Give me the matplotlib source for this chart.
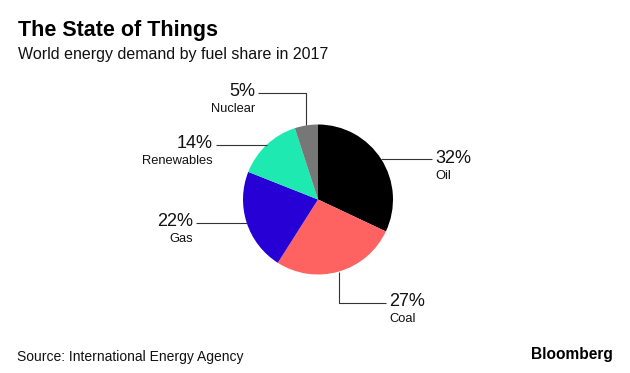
import numpy as np
import matplotlib
matplotlib.use("Agg")
import matplotlib.pyplot as plt

# ---- data ----
fuels = ["Oil", "Coal", "Gas", "Renewables", "Nuclear"]
shares = [32, 27, 22, 14, 5]
share_labels = ["32%", "27%", "22%", "14%", "5%"]
colors = ["#000000", "#FF6361", "#2700D6", "#1DE9B0", "#777777"]

title = "The State of Things"
subtitle = "World energy demand by fuel share in 2017"
source = "Source: International Energy Agency"

W, H = 630, 373
fig = plt.figure(figsize=(W / 100, H / 100), dpi=100)
plt.rcParams['font.family'] = ['Liberation Sans', 'DejaVu Sans']

# pie axes: centre (318, 199.5) px, radius 75 px
cx, cy, r = 318, 199.5, 75
ax = fig.add_axes([(cx - r) / W, (H - cy - r) / H, 2 * r / W, 2 * r / H])
wedges, _ = ax.pie(shares, colors=colors, startangle=90, counterclock=False,
                   radius=1, wedgeprops=dict(linewidth=0))
ax.set_xlim(-1, 1)
ax.set_ylim(-1, 1)
ax.set_aspect('equal')
ax.axis('off')

u = 1 / r  # one pixel in data units
line_kw = dict(color="#333333", lw=0.8, clip_on=False, solid_capstyle='butt')

# label layout: (kind, elbow/target, text side)
# kind 'h': horizontal line from anchor to x_end
# kind 'vh': vertical to y_end then horizontal to x_end
layout = {
    "Oil": ("h", 1.52, None, "left"),
    "Coal": ("vh", 0.907, -1.38, "left"),
    "Gas": ("h", -1.627, None, "right"),
    "Renewables": ("h", -1.36, None, "right"),
    "Nuclear": ("vh", -0.80, 1.42, "right"),
}

for w, fuel, lab in zip(wedges, fuels, share_labels):
    ang = np.deg2rad((w.theta1 + w.theta2) / 2)
    ax0, ay0 = np.cos(ang), np.sin(ang)
    kind, xe, ye, side = layout[fuel]
    if kind == "h":
        ax.plot([ax0, xe], [ay0, ay0], **line_kw)
        yl = ay0
    else:
        ax.plot([ax0, ax0, xe], [ay0, ye, ye], **line_kw)
        yl = ye
    gap = 3 * u if side == "left" else -3 * u
    ax.text(xe + gap, yl + 1 * u, lab, ha=side, va='center', fontsize=13,
            color="#111111", clip_on=False)
    ax.text(xe + gap, yl - 16.5 * u, fuel, ha=side, va='center', fontsize=9.3,
            color="#111111", clip_on=False)

# titles
fig.text(18 / W, 1 - 36 / H, title, fontsize=15.5, fontweight='bold',
         color="#000000", va='baseline', ha='left')
fig.text(18 / W, 1 - 58.5 / H, subtitle, fontsize=11.5, color="#111111",
         va='baseline', ha='left')
fig.text(17 / W, 1 - 361 / H, source, fontsize=10, color="#111111",
         va='baseline', ha='left')
fig.text(613 / W, 1 - 359 / H, "Bloomberg", fontsize=11.2, fontweight='bold',
         color="#000000", va='baseline', ha='right')

fig.savefig("out.png", dpi=100, facecolor="white")
